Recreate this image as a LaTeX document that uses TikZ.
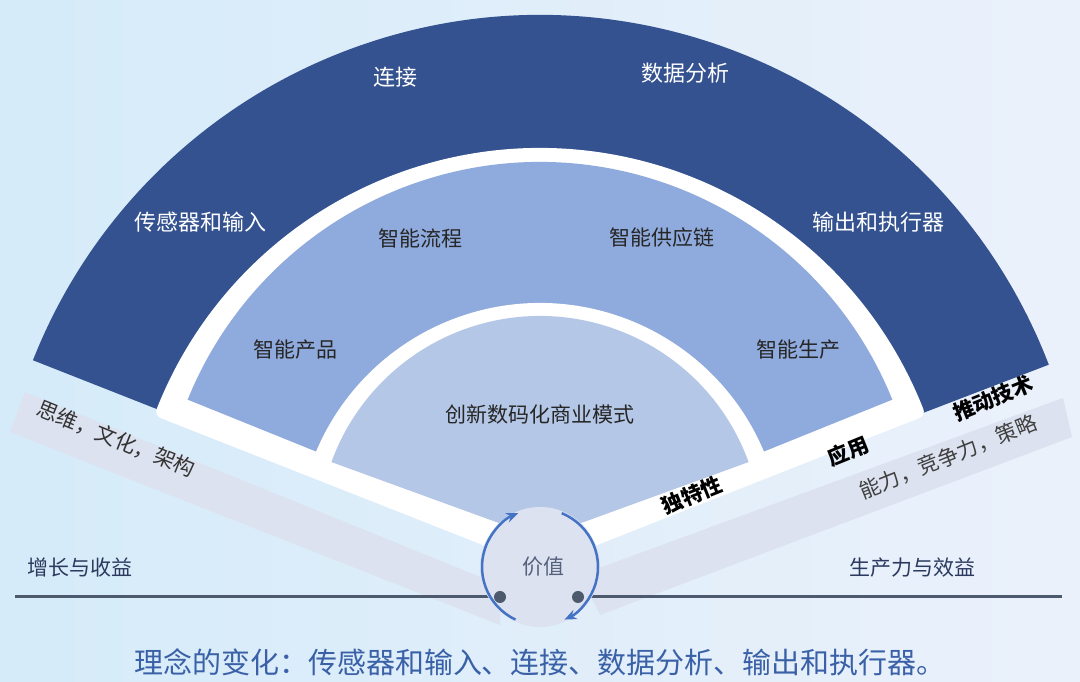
\documentclass[tikz,border=0pt]{standalone}
\usepackage{fontspec}
\setmainfont{Noto Sans CJK SC}
\usetikzlibrary{arrows.meta}
\definecolor{dark}{HTML}{34528F}
\definecolor{mid}{HTML}{8FAADC}
\definecolor{inn}{HTML}{B4C7E7}
\definecolor{band}{HTML}{DCE2EF}
\definecolor{navy}{HTML}{2B3A5E}
\definecolor{arr}{HTML}{4472C4}
\definecolor{ln}{HTML}{4D5A6E}
\definecolor{bgl}{HTML}{D5EBF9}
\definecolor{bgr}{HTML}{EBF1FB}
\begin{document}
\begin{tikzpicture}[x=1pt,y=1pt,
  wt/.style={text=white,font=\fontsize{22}{24}\selectfont},
  mt/.style={text=black!85,font=\fontsize{21}{23}\selectfont},
  rt/.style={text=black,font=\bfseries\fontsize{21}{23}\selectfont,rotate=22},
  bt/.style={text=navy,font=\fontsize{21}{23}\selectfont}]
\useasboundingbox (0,0) rectangle (1080,682);
\shade[left color=bgl,right color=bgr] (0,0) rectangle (1080,682);
% gray bands
\fill[band] (25,290) -- (10,250) -- (500,57) -- (500,97) -- cycle;
\fill[band] (1063,284) -- (1072,245) -- (600,67) -- (580,107) -- cycle;
% outer dark sector
\fill[dark] (540,122) -- +(21:545) arc[start angle=21,end angle=158.5,radius=545] -- cycle;
% white
\filldraw[white,line width=14pt,line join=round] (540,122) -- +(21.5:405) arc[start angle=21.5,end angle=158.5,radius=405] -- cycle;
% mid
\fill[mid] (540,140) -- +(22:380) arc[start angle=22,end angle=158,radius=380] -- cycle;
% white gap
\fill[white] (540,136) -- +(20:243) arc[start angle=20,end angle=160,radius=243] -- cycle;
% inner
\fill[inn] (540,144) -- +(20:222) arc[start angle=20,end angle=160,radius=222] -- cycle;
% line
\draw[ln,line width=3pt] (15,85) -- (500,85);
\draw[ln,line width=3pt] (578,85) -- (1062,85);
% circle
\node[circle,fill=band,minimum size=120pt,inner sep=0pt] (v) at (540,115) {};
\node[text=navy!80,font=\fontsize{21}{23}\selectfont] (vt) at (543,115) {价值};
\draw[arr,line width=2.5pt,-{Stealth[length=12pt,width=10pt]}] (v.center) ++(245:58) arc[start angle=245,end angle=112,radius=58];
\draw[arr,line width=2.5pt,-{Stealth[length=12pt,width=10pt]}] (v.center) ++(68:58) arc[start angle=68,end angle=-65,radius=58];
\fill[ln] (500,85) circle (6pt) coordinate (d1);
\fill[ln] (578,85) circle (6pt) coordinate (d2);
% texts
\node[wt] (a1) at (395,605) {连接};
\node[wt] (a2) at (685,609) {数据分析};
\node[wt] (a3) at (200,460) {传感器和输入};
\node[wt] (a4) at (878,460) {输出和执行器};
\node[mt] (b1) at (420,444) {智能流程};
\node[mt] (b2) at (662,444) {智能供应链};
\node[mt] (b3) at (295,332) {智能产品};
\node[mt] (b4) at (798,332) {智能生产};
\node[mt] (c1) at (540,267) {创新数码化商业模式};
\node[rt] (r1) at (692,187) {独特性};
\node[rt] (r2) at (848,231) {应用};
\node[rt] (r3) at (993,284) {推动技术};
\node[text=black!75,font=\fontsize{21}{23}\selectfont,rotate=22] (r4) at (948,225) {能力，竞争力，策略};
\node[text=black!80,font=\fontsize{21}{23}\selectfont,rotate=-22] (r5) at (116,243) {思维，文化，架构};
\node[bt] (g1) at (80,114) {增长与收益};
\node[bt] (g2) at (912,114) {生产力与效益};
\node[text=arr!85!black,font=\fontsize{29}{31}\selectfont] (cap) at (540,20) {理念的变化：传感器和输入、连接、数据分析、输出和执行器。};
\end{tikzpicture}
\end{document}
